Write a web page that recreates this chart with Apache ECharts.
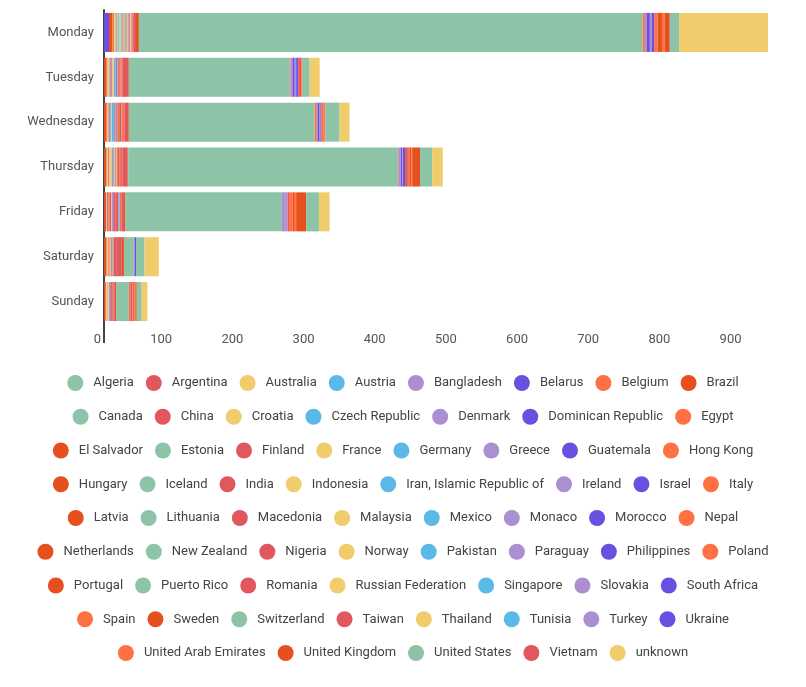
<!DOCTYPE html>
<html><head><meta charset="utf-8">
<script src="https://cdn.jsdelivr.net/npm/echarts@6/dist/echarts.min.js"></script>
<style>html,body{margin:0;padding:0;background:#fff}#c{width:806px;height:687px}</style>
</head><body><div id="c"></div>
<script>
const days = ['Monday','Tuesday','Wednesday','Thursday','Friday','Saturday','Sunday'];
const countries = ['Algeria','Argentina','Australia','Austria','Bangladesh','Belarus','Belgium','Brazil','Canada','China',
'Croatia','Czech Republic','Denmark','Dominican Republic','Egypt','El Salvador','Estonia','Finland','France','Germany',
'Greece','Guatemala','Hong Kong','Hungary','Iceland','India','Indonesia','Iran, Islamic Republic of','Ireland','Israel',
'Italy','Latvia','Lithuania','Macedonia','Malaysia','Mexico','Monaco','Morocco','Nepal','Netherlands',
'New Zealand','Nigeria','Norway','Pakistan','Paraguay','Philippines','Poland','Portugal','Puerto Rico','Romania',
'Russian Federation','Singapore','Slovakia','South Africa','Spain','Sweden','Switzerland','Taiwan','Thailand','Tunisia',
'Turkey','Ukraine','United Arab Emirates','United Kingdom','United States','Vietnam','unknown'];

// values per day, in the order of `countries`
const monday = [1,1,2,1,0,7,2,5,13,0, 1,1,0,0,0,0,1,0,2,1, 1,0,1,0,1,4,1,0,3,4, 3,0,0,1,0,1,0,0,0,6, 1,1,1,0,1,3,4,1,0,1, 1,0,1,0,1,4,0,1,0,0, 3,0,4,7,708,1,125];
const tuesday = [1,1,2,1,0,0,2,3,10,1, 0,0,1,0,0,0,0,0,2,2, 1,1,0,1,0,8,0,0,2,3, 1,0,0,0,0,1,0,0,0,0, 0,1,0,0,0,3,1,1,0,1, 0,0,0,0,2,1,0,1,0,0, 3,0,0,1,226,4,14];
const wednesday = [0,1,1,1,0,0,2,3,20,1, 0,1,0,0,0,0,0,0,1,3, 2,0,1,1,0,5,0,0,1,3, 3,0,0,0,0,1,0,0,0,0, 0,1,0,0,0,1,3,2,0,2, 0,0,1,0,3,1,0,1,0,0, 1,0,1,1,261,1,14];
const thursday = [1,1,1,0,0,0,1,3,17,0, 1,0,0,0,1,0,0,0,2,2, 0,0,1,0,0,7,1,0,1,2, 1,0,0,0,0,1,0,0,0,3, 0,1,1,0,0,3,2,1,0,3, 0,0,0,0,2,1,0,2,0,0, 3,0,1,11,379,4,15];
const friday = [0,1,1,0,0,0,0,3,18,0, 0,0,0,1,2,0,0,2,1,1, 0,1,0,0,0,3,0,0,3,1, 0,0,0,0,0,0,0,0,0,2, 0,3,0,0,0,0,5,0,0,4, 0,2,0,0,2,2,0,1,0,0, 4,0,3,14,220,2,15];
const saturday = [1,0,1,0,0,0,1,3,12,0, 0,0,0,0,2,0,0,0,1,1, 0,0,2,0,0,4,0,0,0,2, 0,0,0,0,0,1,0,0,1,0, 0,0,0,0,0,0,0,0,0,4, 0,0,0,0,0,3,0,3,0,0, 1,0,0,0,14,0,20];
const sunday = [0,0,1,0,0,0,2,1,7,0, 1,0,0,0,1,0,0,0,1,1, 0,0,0,0,0,2,0,0,0,0, 2,0,0,0,0,0,0,1,0,2, 0,1,0,0,0,0,1,0,0,2, 0,0,0,0,0,2,0,1,0,0, 0,0,1,2,18,3,8];

// order in which segments are stacked from left to right
const stackOrder = ['Belarus','Brazil','Belgium','Australia','Algeria','Austria','Bangladesh','Argentina','China','Croatia',
'Czech Republic','Denmark','Dominican Republic','Egypt','El Salvador','Estonia','Finland','France','Germany','Greece',
'Guatemala','Hong Kong','Hungary','Iceland','Indonesia','Iran, Islamic Republic of','Latvia','Lithuania','Macedonia','Malaysia',
'Mexico','Monaco','Morocco','Nepal','New Zealand','Nigeria','Norway','Pakistan','Paraguay','Portugal',
'Puerto Rico','Romania','Russian Federation','Singapore','Slovakia','South Africa','Spain','Switzerland','Taiwan','Thailand',
'Tunisia','Ukraine','India','Sweden','United States','Italy','Turkey','Israel','Ireland','Philippines',
'Vietnam','Poland','Netherlands','United Arab Emirates','United Kingdom','Canada','unknown'];

const legendRowSizes = [8,7,8,8,8,8,7,8,5];
const palette = ['#8dc4a7','#e0585d','#f1cc6d','#5bb9e7','#ab8fd1','#6a50e0','#ff7043','#e6501f'];

const dayValues = [monday,tuesday,wednesday,thursday,friday,saturday,sunday];
const totals = dayValues.map(a => a.reduce((s,v)=>s+v,0));
const xMax = Math.max(...totals);

const series = stackOrder.map(name => {
  const ci = countries.indexOf(name);
  return {
    name, type:'bar', stack:'total', barCategoryGap:'13%',
    data: dayValues.map(a => a[ci]),
    itemStyle:{color: palette[ci % 8]},
    emphasis:{disabled:true},
    animation:false
  };
});

let start = 0;
const legends = legendRowSizes.map((n, r) => {
  const data = countries.slice(start, start + n);
  start += n;
  return {
    data, top: 370 + r * 33.75, left:'center', icon:'circle',
    itemWidth:16, itemHeight:16, itemGap:12, selectedMode:false,
    textStyle:{fontFamily:'Roboto', fontSize:13, color:'#444', padding:[0,0,0,5]}
  };
});

const chart = echarts.init(document.getElementById('c'));
chart.setOption({
  animation:false,
  color: palette,
  grid:{left:104, right:38, top:10, bottom:363, containLabel:false},
  xAxis:{type:'value', min:0, max:xMax, interval:100,
    axisLine:{show:false}, axisTick:{show:false}, splitLine:{show:false},
    axisLabel:{showMaxLabel:false, align:'right', padding:[0,3,0,0], color:'#555', fontSize:13, fontFamily:'Roboto', margin:9}},
  yAxis:{type:'category', data:days, inverse:true,
    axisLine:{show:true, lineStyle:{color:'#444', width:2}}, axisTick:{show:false},
    axisLabel:{color:'#555', fontSize:13, fontFamily:'Roboto', margin:10}},
  legend: legends,
  graphic:[{type:'line', shape:{x1:104, y1:323, x2:104, y2:343}, style:{stroke:'#444', lineWidth:2}, silent:true}],
  series
});
</script></body></html>
